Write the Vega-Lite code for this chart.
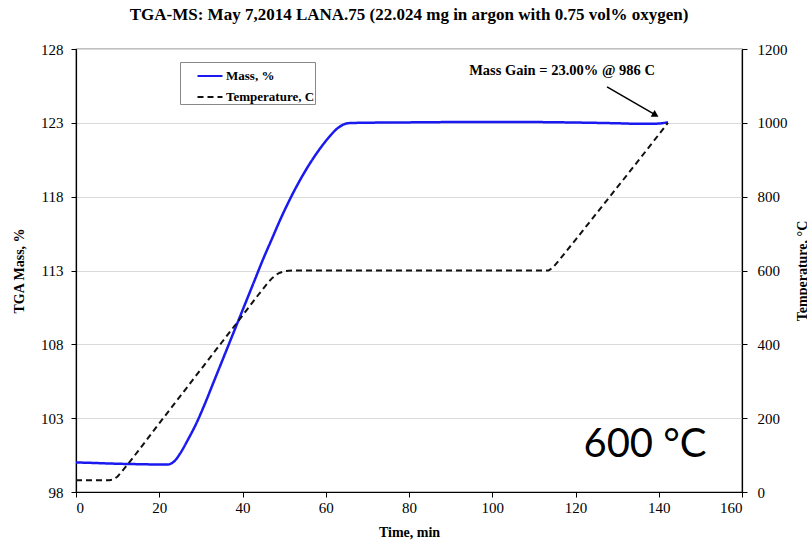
{
  "$schema": "https://vega.github.io/schema/vega-lite/v6.json",
  "width": 666,
  "height": 443,
  "autosize": {"type": "none"},
  "padding": {"left": 76, "top": 49, "right": 65, "bottom": 51},
  "background": "white",
  "title": {
    "text": "TGA-MS:  May 7,2014  LANA.75 (22.024 mg in argon with 0.75 vol% oxygen)",
    "anchor": "middle",
    "frame": "group",
    "font": "Liberation Serif",
    "fontSize": 17,
    "fontWeight": "bold",
    "color": "black",
    "offset": 18
  },
  "datasets": {
    "mass": [
      {"t": 0, "m": 100.0, "series": "Mass, %"},
      {"t": 4, "m": 99.97, "series": "Mass, %"},
      {"t": 8, "m": 99.93, "series": "Mass, %"},
      {"t": 12, "m": 99.9, "series": "Mass, %"},
      {"t": 16, "m": 99.88, "series": "Mass, %"},
      {"t": 20, "m": 99.86, "series": "Mass, %"},
      {"t": 22, "m": 99.86, "series": "Mass, %"},
      {"t": 23, "m": 99.95, "series": "Mass, %"},
      {"t": 24, "m": 100.2, "series": "Mass, %"},
      {"t": 25, "m": 100.6, "series": "Mass, %"},
      {"t": 27, "m": 101.6, "series": "Mass, %"},
      {"t": 29, "m": 102.7, "series": "Mass, %"},
      {"t": 31, "m": 104.0, "series": "Mass, %"},
      {"t": 33, "m": 105.4, "series": "Mass, %"},
      {"t": 35, "m": 106.8, "series": "Mass, %"},
      {"t": 37, "m": 108.2, "series": "Mass, %"},
      {"t": 39, "m": 109.6, "series": "Mass, %"},
      {"t": 41, "m": 111.0, "series": "Mass, %"},
      {"t": 43, "m": 112.4, "series": "Mass, %"},
      {"t": 45, "m": 113.8, "series": "Mass, %"},
      {"t": 47, "m": 115.1, "series": "Mass, %"},
      {"t": 49, "m": 116.4, "series": "Mass, %"},
      {"t": 51, "m": 117.6, "series": "Mass, %"},
      {"t": 53, "m": 118.7, "series": "Mass, %"},
      {"t": 55, "m": 119.7, "series": "Mass, %"},
      {"t": 57, "m": 120.6, "series": "Mass, %"},
      {"t": 59, "m": 121.4, "series": "Mass, %"},
      {"t": 61, "m": 122.1, "series": "Mass, %"},
      {"t": 62.5, "m": 122.55, "series": "Mass, %"},
      {"t": 64, "m": 122.85, "series": "Mass, %"},
      {"t": 65.5, "m": 122.98, "series": "Mass, %"},
      {"t": 68, "m": 123.0, "series": "Mass, %"},
      {"t": 80, "m": 123.03, "series": "Mass, %"},
      {"t": 90, "m": 123.05, "series": "Mass, %"},
      {"t": 100, "m": 123.05, "series": "Mass, %"},
      {"t": 110, "m": 123.05, "series": "Mass, %"},
      {"t": 120, "m": 123.02, "series": "Mass, %"},
      {"t": 130, "m": 122.97, "series": "Mass, %"},
      {"t": 136, "m": 122.93, "series": "Mass, %"},
      {"t": 140, "m": 122.95, "series": "Mass, %"},
      {"t": 142.2, "m": 123.05, "series": "Mass, %"}
    ],
    "temp": [
      {"t": 0, "T": 32, "series": "Temperature, C"},
      {"t": 5, "T": 32, "series": "Temperature, C"},
      {"t": 8, "T": 32, "series": "Temperature, C"},
      {"t": 9, "T": 34, "series": "Temperature, C"},
      {"t": 10, "T": 42, "series": "Temperature, C"},
      {"t": 11, "T": 55, "series": "Temperature, C"},
      {"t": 13, "T": 83, "series": "Temperature, C"},
      {"t": 15, "T": 112, "series": "Temperature, C"},
      {"t": 20, "T": 186, "series": "Temperature, C"},
      {"t": 25, "T": 259, "series": "Temperature, C"},
      {"t": 30, "T": 332, "series": "Temperature, C"},
      {"t": 35, "T": 405, "series": "Temperature, C"},
      {"t": 40, "T": 478, "series": "Temperature, C"},
      {"t": 44, "T": 537, "series": "Temperature, C"},
      {"t": 46, "T": 565, "series": "Temperature, C"},
      {"t": 47, "T": 578, "series": "Temperature, C"},
      {"t": 48, "T": 588, "series": "Temperature, C"},
      {"t": 49, "T": 594, "series": "Temperature, C"},
      {"t": 50, "T": 598, "series": "Temperature, C"},
      {"t": 52, "T": 600, "series": "Temperature, C"},
      {"t": 60, "T": 600, "series": "Temperature, C"},
      {"t": 80, "T": 600, "series": "Temperature, C"},
      {"t": 100, "T": 600, "series": "Temperature, C"},
      {"t": 113.5, "T": 600, "series": "Temperature, C"},
      {"t": 114.5, "T": 607, "series": "Temperature, C"},
      {"t": 116, "T": 627, "series": "Temperature, C"},
      {"t": 120, "T": 683, "series": "Temperature, C"},
      {"t": 125, "T": 754, "series": "Temperature, C"},
      {"t": 130, "T": 825, "series": "Temperature, C"},
      {"t": 135, "T": 896, "series": "Temperature, C"},
      {"t": 140, "T": 968, "series": "Temperature, C"},
      {"t": 142.2, "T": 1000, "series": "Temperature, C"}
    ],
    "note": [
      {"t": 116.76, "m": 126.24, "label": "Mass Gain = 23.00% @ 986 C"}
    ],
    "big": [
      {"t": 136.7, "m": 100.37, "label": "600 °C"}
    ],
    "arrow": [
      {"t": 127.57, "m": 125.43, "t2": 139.0, "m2": 123.57}
    ],
    "head": [
      {"t": 139.0, "m": 123.57}
    ]
  },
  "layer": [
    {
      "layer": [
        {
          "data": {"name": "mass"},
          "mark": {"type": "line", "strokeWidth": 2.5, "interpolate": "monotone"},
          "encoding": {
            "x": {"field": "t", "type": "quantitative",
              "scale": {"domain": [0, 160], "nice": false, "zero": false},
              "axis": {"title": "Time, min", "values": [0, 20, 40, 60, 80, 100, 120, 140, 160], "grid": false, "tickSize": 5, "labelPadding": 3, "titlePadding": 10}},
            "y": {"field": "m", "type": "quantitative",
              "scale": {"domain": [98, 128], "nice": false, "zero": false},
              "axis": {"title": "TGA Mass, %", "values": [98, 103, 108, 113, 118, 123, 128], "grid": true, "tickSize": 5, "labelPadding": 8, "titlePadding": 14}},
            "color": {"field": "series", "type": "nominal",
              "scale": {"domain": ["Mass, %", "Temperature, C"], "range": ["#1a1af0", "#111111"]},
              "legend": {"title": null}},
            "strokeDash": {"field": "series", "type": "nominal",
              "scale": {"domain": ["Mass, %", "Temperature, C"], "range": [[1, 0], [6, 4]]},
              "legend": {"title": null}}
          }
        },
        {
          "data": {"name": "note"},
          "mark": {"type": "text", "font": "Liberation Serif", "fontSize": 14.5, "fontWeight": "bold", "color": "black", "align": "center", "baseline": "alphabetic"},
          "encoding": {
            "x": {"field": "t", "type": "quantitative"},
            "y": {"field": "m", "type": "quantitative"},
            "text": {"field": "label"}
          }
        },
        {
          "data": {"name": "big"},
          "mark": {"type": "text", "font": "Lato", "fontSize": 40, "color": "black", "align": "center", "baseline": "alphabetic"},
          "encoding": {
            "x": {"field": "t", "type": "quantitative"},
            "y": {"field": "m", "type": "quantitative"},
            "text": {"field": "label"}
          }
        },
        {
          "data": {"name": "arrow"},
          "mark": {"type": "rule", "color": "black", "strokeWidth": 1.5},
          "encoding": {
            "x": {"field": "t", "type": "quantitative"},
            "y": {"field": "m", "type": "quantitative"},
            "x2": {"field": "t2"},
            "y2": {"field": "m2"}
          }
        },
        {
          "data": {"name": "head"},
          "mark": {"type": "point", "shape": "triangle", "filled": true, "color": "black", "size": 60, "angle": 120, "opacity": 1},
          "encoding": {
            "x": {"field": "t", "type": "quantitative"},
            "y": {"field": "m", "type": "quantitative"}
          }
        }
      ]
    },
    {
      "data": {"name": "temp"},
      "mark": {"type": "line", "strokeWidth": 2},
      "encoding": {
        "x": {"field": "t", "type": "quantitative"},
        "y": {"field": "T", "type": "quantitative",
          "scale": {"domain": [0, 1200], "nice": false},
          "axis": {"orient": "right", "title": "Temperature, °C", "format": "d", "values": [0, 200, 400, 600, 800, 1000, 1200], "grid": false, "tickSize": 5, "labelPadding": 10, "titlePadding": 22, "titleAngle": 270}},
        "color": {"field": "series", "type": "nominal"},
        "strokeDash": {"field": "series", "type": "nominal"}
      }
    }
  ],
  "resolve": {"scale": {"y": "independent"}, "axis": {"y": "independent"}},
  "config": {
    "view": {"stroke": "black", "strokeWidth": 1.2},
    "axis": {
      "domainColor": "black", "domainWidth": 1.2,
      "tickColor": "black", "tickWidth": 1,
      "labelColor": "black", "titleColor": "black",
      "labelFont": "Liberation Serif", "titleFont": "Liberation Serif",
      "labelFontSize": 15, "titleFontSize": 14, "titleFontWeight": "bold",
      "gridColor": "#d9d9d9", "gridWidth": 1
    },
    "legend": {
      "orient": "none", "legendX": 104, "legendY": 13,
      "strokeColor": "#888888", "fillColor": "white", "padding": 0,
      "symbolType": "stroke", "symbolSize": 625, "symbolStrokeWidth": 2.2, "symbolOffset": 16,
      "labelFont": "Liberation Serif", "labelFontSize": 13, "labelFontWeight": "bold", "labelColor": "black",
      "labelOffset": 2, "rowPadding": -1
    }
  }
}
